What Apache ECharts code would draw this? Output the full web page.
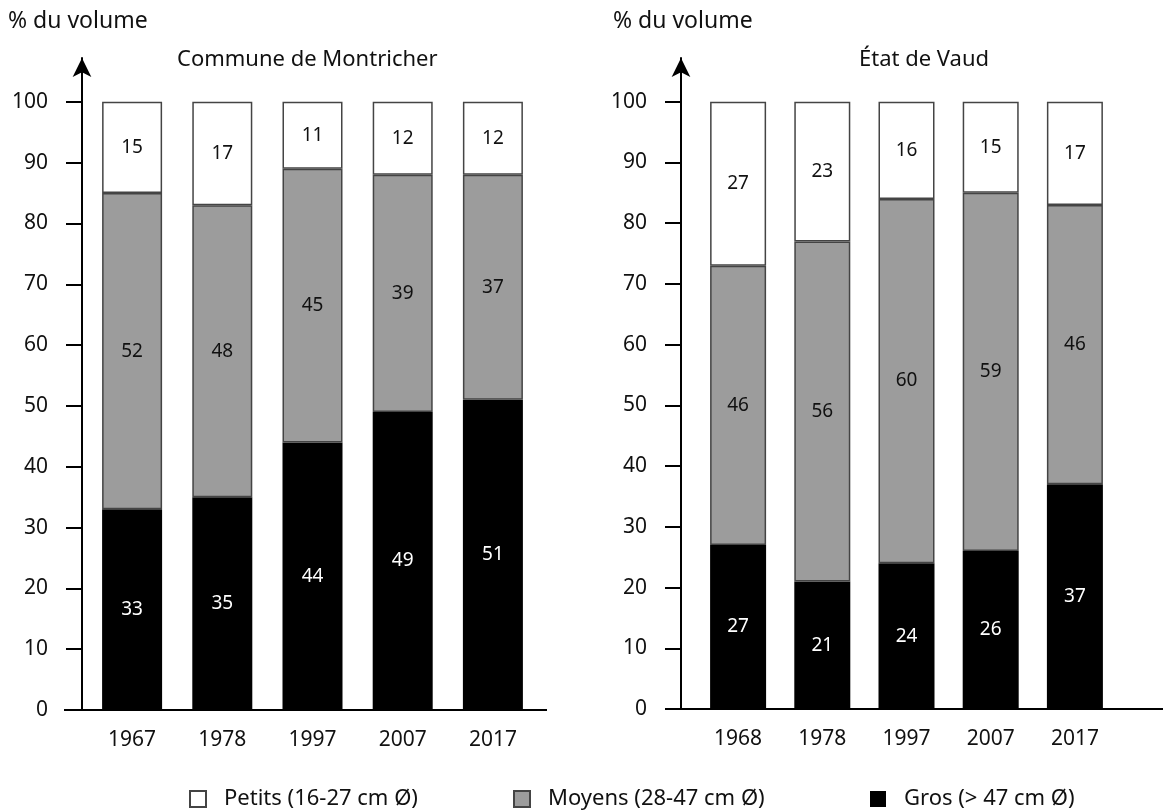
<!DOCTYPE html>
<html>
<head>
<meta charset="utf-8">
<script src="https://cdn.jsdelivr.net/npm/echarts@6/dist/echarts.min.js"></script>
<style>
  html, body { margin: 0; padding: 0; background: #fff; }
  #chart { width: 1163px; height: 812px; }
</style>
</head>
<body>
<div id="chart"></div>
<script>
  // Commune de Montricher
  var yearsMontricher = ['1967', '1978', '1997', '2007', '2017'];
  var grosMontricher = [33, 35, 44, 49, 51];
  var moyensMontricher = [52, 48, 45, 39, 37];
  var petitsMontricher = [15, 17, 11, 12, 12];
  // Etat de Vaud
  var yearsVaud = ['1968', '1978', '1997', '2007', '2017'];
  var grosVaud = [27, 21, 24, 26, 37];
  var moyensVaud = [46, 56, 60, 59, 46];
  var petitsVaud = [27, 23, 16, 15, 17];
  // graduations
  var yTicks = [0, 10, 20, 30, 40, 50, 60, 70, 80, 90, 100];

  var nomPetits = 'Petits (16-27 cm Ø)';
  var nomMoyens = 'Moyens (28-47 cm Ø)';
  var nomGros = 'Gros (> 47 cm Ø)';

  var font = '"Noto Sans", "Open Sans", sans-serif';
  var chart = echarts.init(document.getElementById('chart'));

  function yAxe(idx, off) {
    return {
      type: 'value', gridIndex: idx, min: 0, max: 107.2, interval: 10,
      offset: off,
      splitLine: { show: false },
      axisLine: { show: true, lineStyle: { color: '#000', width: 2 },
        symbol: ['none', 'arrow'], symbolSize: [14, 19] },
      axisTick: { show: true, length: 16, lineStyle: { color: '#000', width: 2 },
        customValues: yTicks },
      axisLabel: { color: '#111', fontSize: 21, fontFamily: font, margin: 34,
        customValues: yTicks,
        formatter: function (v) { return v % 10 === 0 ? v : ''; } }
    };
  }

  function xAxe(idx, cats) {
    return {
      type: 'category', gridIndex: idx, data: cats,
      axisLine: { show: false },
      axisTick: { show: false },
      axisLabel: { color: '#111', fontSize: 21, fontFamily: font, margin: 20 }
    };
  }

  function serie(nom, idx, vals, bw, fill, border, txt) {
    return {
      name: nom, type: 'bar', stack: 'pile' + idx,
      xAxisIndex: idx, yAxisIndex: idx,
      data: vals, barWidth: bw,
      itemStyle: { color: fill, borderColor: border, borderWidth: border ? 1.5 : 0 },
      label: { show: true, position: 'inside', color: txt, fontSize: 19, fontFamily: font },
      emphasis: { disabled: true }
    };
  }

  function legende(nom, x) {
    return {
      data: [nom], left: x, top: 788, padding: 0,
      icon: 'rect', itemWidth: 16, itemHeight: 16,
      textStyle: { fontSize: 22, fontFamily: font, color: '#111', padding: [0, 0, 0, 13] }
    };
  }

  var titre = { fontSize: 23, fontWeight: 'normal', fontFamily: font, color: '#111' };
  var titre2 = { fontSize: 22, fontWeight: 'normal', fontFamily: font, color: '#111' };

  var option = {
    animation: false,
    backgroundColor: '#fff',
    title: [
      { text: '% du volume', left: 8, top: 10, padding: 0, textStyle: titre },
      { text: 'Commune de Montricher', left: 177, top: 49, padding: 0, textStyle: titre2 },
      { text: '% du volume', left: 613, top: 10, padding: 0, textStyle: titre },
      { text: 'État de Vaud', left: 859, top: 49, padding: 0, textStyle: titre2 }
    ],
    legend: [
      legende(nomPetits, 189),
      legende(nomMoyens, 513),
      legende(nomGros, 870)
    ],
    grid: [
      { left: 87, right: 625, top: 58, bottom: 102 },
      { left: 696, right: 46, top: 58, bottom: 103 }
    ],
    xAxis: [xAxe(0, yearsMontricher), xAxe(1, yearsVaud)],
    yAxis: [yAxe(0, 5), yAxe(1, 15)],
    graphic: [
      { type: 'line', shape: { x1: 64, y1: 710, x2: 547, y2: 710 },
        style: { stroke: '#000', lineWidth: 2 }, z: 10 },
      { type: 'line', shape: { x1: 665, y1: 709, x2: 1163, y2: 709 },
        style: { stroke: '#000', lineWidth: 2 }, z: 10 }
    ],
    series: [
      serie(nomGros, 0, grosMontricher, 60, '#000', null, '#fff'),
      serie(nomMoyens, 0, moyensMontricher, 60, '#9c9c9c', '#444', '#111'),
      serie(nomPetits, 0, petitsMontricher, 60, '#fff', '#444', '#111'),
      serie(nomGros, 1, grosVaud, 56, '#000', null, '#fff'),
      serie(nomMoyens, 1, moyensVaud, 56, '#9c9c9c', '#444', '#111'),
      serie(nomPetits, 1, petitsVaud, 56, '#fff', '#444', '#111')
    ]
  };
  chart.setOption(option);
</script>
</body>
</html>
